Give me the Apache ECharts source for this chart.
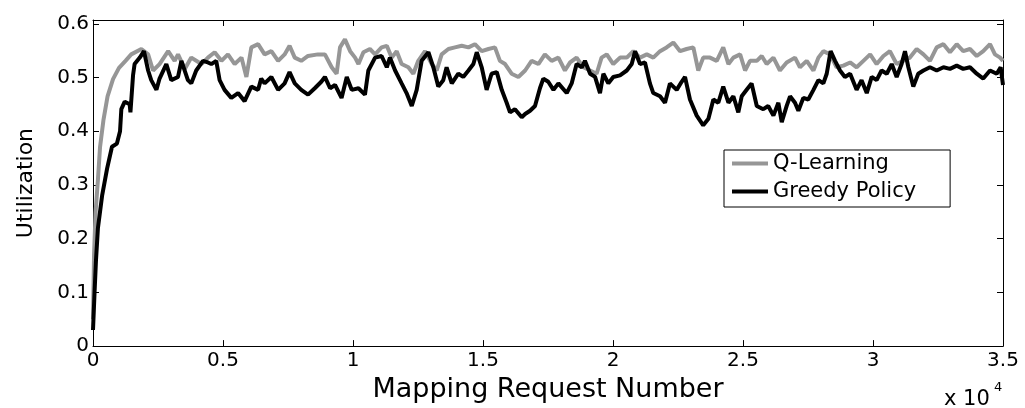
<!DOCTYPE html>
<html>
<head>
<meta charset="utf-8">
<script src="https://cdn.jsdelivr.net/npm/echarts/dist/echarts.min.js"></script>
<style>
html,body{margin:0;padding:0;background:#fff;}
#chart{width:1025px;height:408px;}
</style>
</head>
<body>
<div id="chart"></div>
<script>
// Series names
const seriesNames = ['Q-Learning', 'Greedy Policy'];

// Q-Learning utilization: [mapping request number, utilization]
const qLearning = [
[0,0.05],[40,0.17],[100,0.25],[190,0.31],[270,0.37],[400,0.42],[560,0.465],[770,0.497],[1000,0.518],[1250,0.531],[1470,0.543],[1860,0.553],[2120,0.543],[2310,0.513],[2560,0.525],[2890,0.549],[3140,0.531],[3270,0.543],[3530,0.516],[3780,0.537],[4170,0.525],[4420,0.537],[4680,0.547],[4940,0.531],[5190,0.543],[5450,0.525],[5710,0.537],[5900,0.501],[6090,0.556],[6350,0.562],[6600,0.543],[6860,0.549],[7120,0.531],[7370,0.543],[7560,0.559],[7760,0.537],[8010,0.531],[8270,0.540],[8650,0.543],
[8920,0.543],[9180,0.519],[9370,0.507],[9500,0.556],[9690,0.571],[9890,0.549],[10080,0.537],[10210,0.525],[10400,0.547],[10650,0.553],[10850,0.543],[11100,0.556],[11300,0.559],[11490,0.537],[11680,0.549],[11870,0.525],[12130,0.519],[12320,0.507],[12510,0.531],[12770,0.549],[13030,0.525],[13220,0.513],[13410,0.543],[13670,0.553],[13920,0.556],[14180,0.559],[14440,0.556],[14690,0.562],[14950,0.549],[15210,0.553],[15460,0.556],[15650,0.531],[15850,0.525],[16100,0.507],[16360,0.501],[16620,0.513],[16870,0.531],[17130,0.525],[17380,0.543],[17640,0.531],[17900,0.537],
[18150,0.513],[18350,0.528],[18600,0.537],[18860,0.519],[19120,0.513],[19370,0.507],[19560,0.537],[19760,0.543],[20010,0.525],[20270,0.537],[20530,0.537],[20780,0.549],[21040,0.537],[21300,0.543],[21550,0.537],[21810,0.549],[22060,0.556],[22320,0.565],[22580,0.549],[22830,0.553],[23090,0.556],[23280,0.513],[23470,0.537],[23730,0.537],[23990,0.531],[24240,0.556],[24440,0.525],[24630,0.537],[24890,0.543],[25080,0.513],[25270,0.531],[25530,0.531],[25720,0.540],[25910,0.525],[26170,0.537],[26420,0.513],[26680,0.528],
[27000,0.537],[27190,0.519],[27450,0.531],[27710,0.513],[27900,0.537],[28090,0.549],[28350,0.543],[28600,0.519],[28860,0.522],[29120,0.528],[29370,0.519],[29630,0.531],[29890,0.543],[30140,0.525],[30400,0.540],[30650,0.549],[30910,0.525],[31170,0.531],[31420,0.537],[31680,0.553],[31940,0.543],[32190,0.531],[32450,0.556],[32710,0.562],[32960,0.547],[33220,0.562],[33470,0.549],[33730,0.553],[33990,0.540],[34240,0.549],[34500,0.562],[34690,0.543],[34890,0.537],[35000,0.531]
];

// Greedy Policy utilization: [mapping request number, utilization]
const greedyPolicy = [
[0,0.03],[60,0.10],[115,0.16],[190,0.22],[350,0.28],[540,0.33],[730,0.371],[920,0.377],[1040,0.40],[1090,0.441],[1220,0.455],[1410,0.45],[1440,0.435],[1540,0.504],[1600,0.525],[1800,0.537],[1960,0.549],[2120,0.513],[2240,0.495],[2440,0.477],[2560,0.498],[2820,0.525],[3010,0.495],[3270,0.501],[3400,0.531],[3650,0.495],[3780,0.489],[3970,0.513],[4230,0.531],[4420,0.528],[4550,0.525],[4740,0.531],[4870,0.495],[5060,0.477],[5320,0.462],[5580,0.471],[5830,0.456],[6090,0.483],[6350,0.477],[6470,0.498],[6600,0.489],[6860,0.501],[7120,0.477],[7370,0.489],[7560,0.510],[7760,0.489],[8010,0.477],[8270,0.468],[8530,0.480],[8780,0.492],
[8920,0.501],[9120,0.480],[9310,0.486],[9560,0.462],[9760,0.501],[9950,0.477],[10210,0.480],[10460,0.468],[10590,0.513],[10850,0.537],[11100,0.540],[11300,0.519],[11420,0.537],[11620,0.513],[11870,0.489],[12060,0.471],[12260,0.447],[12450,0.477],[12640,0.531],[12900,0.547],[13090,0.519],[13280,0.483],[13470,0.495],[13600,0.519],[13800,0.489],[14050,0.507],[14240,0.501],[14440,0.513],[14630,0.525],[14760,0.547],[14950,0.519],[15140,0.477],[15330,0.507],[15530,0.510],[15720,0.477],[15910,0.453],[16040,0.435],[16230,0.441],[16490,0.426],[16620,0.432],[16810,0.438],[17000,0.447],[17190,0.480],[17320,0.498],[17510,0.492],[17710,0.477],[17900,0.489],
[18220,0.471],[18410,0.489],[18600,0.525],[18800,0.519],[18920,0.531],[19120,0.507],[19310,0.501],[19500,0.471],[19630,0.507],[19820,0.489],[20010,0.501],[20270,0.504],[20530,0.513],[20720,0.525],[20850,0.549],[21040,0.525],[21230,0.528],[21420,0.489],[21550,0.471],[21810,0.465],[22000,0.453],[22190,0.489],[22450,0.477],[22640,0.492],[22770,0.501],[22960,0.459],[23220,0.429],[23470,0.411],[23670,0.423],[23860,0.459],[24050,0.453],[24240,0.483],[24440,0.453],[24630,0.465],[24820,0.435],[24950,0.465],[25140,0.477],[25330,0.489],[25530,0.447],[25780,0.441],[25970,0.447],[26170,0.429],[26360,0.453],[26490,0.417],[26680,0.447],
[26810,0.465],[27000,0.453],[27130,0.438],[27320,0.462],[27510,0.459],[27710,0.477],[27900,0.495],[28090,0.489],[28220,0.507],[28370,0.549],[28540,0.531],[28730,0.513],[28920,0.501],[29120,0.507],[29370,0.477],[29560,0.495],[29760,0.471],[29950,0.501],[30140,0.495],[30330,0.513],[30530,0.507],[30720,0.525],[30910,0.501],[31100,0.525],[31230,0.549],[31360,0.519],[31550,0.483],[31740,0.507],[31940,0.513],[32190,0.519],[32450,0.513],[32710,0.519],[32960,0.516],[33220,0.522],[33470,0.516],[33730,0.519],[33990,0.507],[34240,0.498],[34500,0.513],[34760,0.507],[34910,0.519],[35000,0.486]
];

// Axis settings (values)
const xMin = 0, xMax = 35000, xStep = 5000, xScale = 10000;
const yMin = 0, yMax = 0.607, yStep = 0.1;
const xTitle = 'Mapping Request Number';
const yTitle = 'Utilization';
const xExponent = 'x 10';
const xExponentPower = '4';

const FONT = 'DejaVu Sans';
const black = '#000';
const gray = '#969696';

const baseAxis = {
  axisLine: { show: true, onZero: false, lineStyle: { color: black, width: 1 } },
  axisTick: { show: true, inside: true, length: 6, lineStyle: { color: black, width: 1 } },
  splitLine: { show: false }
};

const chart = echarts.init(document.getElementById('chart'), null, { renderer: 'canvas' });
chart.setOption({
  animation: false,
  backgroundColor: '#fff',
  grid: { left: 93, right: 22, top: 20, bottom: 53, containLabel: false },
  legend: {
    data: [
      { name: seriesNames[0], icon: 'rect', itemStyle: { color: gray } },
      { name: seriesNames[1], icon: 'rect', itemStyle: { color: black } }
    ],
    orient: 'vertical',
    left: 724,
    top: 150,
    itemWidth: 36,
    itemHeight: 4,
    itemGap: 7,
    padding: [3, 34, 5, 8],
    borderColor: black,
    borderWidth: 1,
    borderRadius: 0,
    backgroundColor: '#fff',
    textStyle: { fontFamily: FONT, fontSize: 21, color: black }
  },
  xAxis: [
    Object.assign({}, baseAxis, {
      type: 'value', min: xMin, max: xMax, interval: xStep, position: 'bottom',
      axisLabel: { formatter: v => String(v / xScale), color: black, fontFamily: FONT, fontSize: 20, margin: 5 },
      name: xTitle, nameLocation: 'middle', nameGap: 24,
      nameTextStyle: { fontFamily: FONT, fontSize: 27, color: black }
    }),
    Object.assign({}, baseAxis, {
      type: 'value', min: xMin, max: xMax, interval: xStep, position: 'top',
      axisLabel: { show: false }
    })
  ],
  yAxis: [
    Object.assign({}, baseAxis, {
      type: 'value', min: yMin, max: yMax, interval: yStep, position: 'left',
      axisLabel: { formatter: v => String(Math.round(v * 10) / 10), showMaxLabel: false, color: black, fontFamily: FONT, fontSize: 20, margin: 4 },
      name: yTitle, nameLocation: 'middle', nameGap: 56, nameRotate: 90,
      nameTextStyle: { fontFamily: FONT, fontSize: 22, color: black }
    }),
    Object.assign({}, baseAxis, {
      type: 'value', min: yMin, max: yMax, interval: yStep, position: 'right',
      axisLabel: { show: false }
    })
  ],
  graphic: [
    { type: 'text', left: 944, top: 389, style: { text: xExponent, font: '21px "DejaVu Sans"', fill: black } },
    { type: 'text', left: 994, top: 381, style: { text: xExponentPower, font: '13px "DejaVu Sans"', fill: black } }
  ],
  series: [
    {
      name: seriesNames[0], type: 'line', data: qLearning, xAxisIndex: 0, yAxisIndex: 0,
      symbol: 'none', smooth: false, z: 2,
      lineStyle: { color: gray, width: 4 }, itemStyle: { color: gray }
    },
    {
      name: seriesNames[1], type: 'line', data: greedyPolicy, xAxisIndex: 0, yAxisIndex: 0,
      symbol: 'none', smooth: false, z: 3,
      lineStyle: { color: black, width: 4 }, itemStyle: { color: black }
    }
  ]
});
</script>
</body>
</html>
